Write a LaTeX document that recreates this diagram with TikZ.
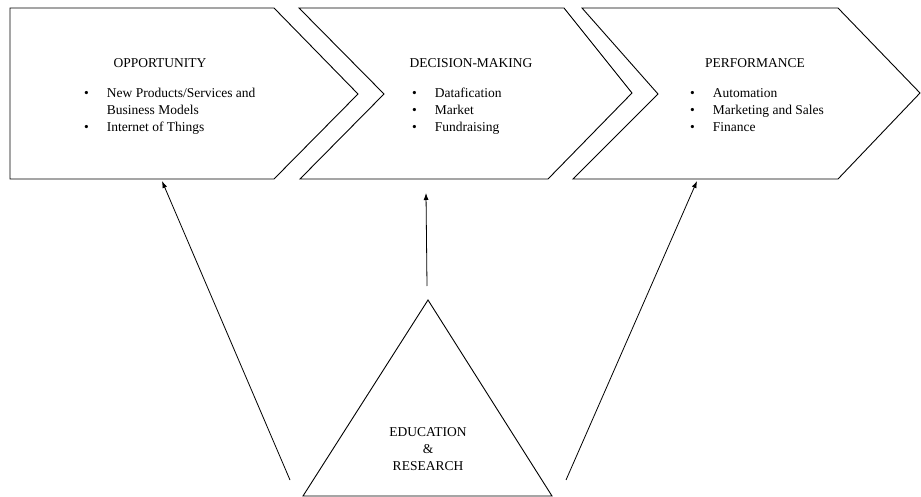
\documentclass[tikz,border=0pt]{standalone}
\usepackage{fontspec}
\setmainfont{Liberation Serif}
\usetikzlibrary{arrows.meta, calc}

\begin{document}
\begin{tikzpicture}[x=1pt, y=-1pt, every text node part/.style={align=center}]

\tikzstyle{box}=[inner sep=0pt, font=\fontsize{13.5}{17}\selectfont]
\tikzstyle{items}=[box, anchor=north west]
\tikzstyle{outline}=[draw, line width=0.9pt, line join=miter]
\tikzstyle{edge}=[draw, line width=0.8pt, -{Latex[length=7pt, width=5pt]}]

\useasboundingbox (0,0) rectangle (921,497);

\path [outline] (10,8) -- (274,8) -- (358,94) -- (274,179) -- (10,179) -- cycle;
\path [outline] (299,8) -- (564,8) -- (632,93) -- (548,179) -- (300,179) -- (384,94) -- cycle;
\path [outline] (582,8) -- (838,8) -- (920,93) -- (838,179) -- (573,179) -- (658,94) -- cycle;
\path [outline] (428,300) -- (552,496) -- (303,496) -- cycle;

\node [box] (opp)  at (160, 63) {OPPORTUNITY};
\node [box] (dec)  at (471, 63) {DECISION-MAKING};
\node [box] (perf) at (755, 63) {PERFORMANCE};

\node [items] (opplist) at (84, 85) {\begin{tabular}{@{}l@{\hspace{18pt}}l@{}}
  \textbullet & New Products/Services and \\
              & Business Models \\
  \textbullet & Internet of Things
\end{tabular}};
\node [items] (declist) at (412, 85) {\begin{tabular}{@{}l@{\hspace{18pt}}l@{}}
  \textbullet & Datafication \\
  \textbullet & Market \\
  \textbullet & Fundraising
\end{tabular}};
\node [items] (perflist) at (690, 85) {\begin{tabular}{@{}l@{\hspace{18pt}}l@{}}
  \textbullet & Automation \\
  \textbullet & Marketing and Sales \\
  \textbullet & Finance
\end{tabular}};

\node [box] (edu) at (428, 449) {EDUCATION\\\&\\RESEARCH};

\coordinate (leftfoot)  at (290, 480);
\coordinate (midfoot)   at (427, 286);
\coordinate (rightfoot) at (566, 480);
\coordinate (opptarget)  at (162, 181);
\coordinate (dectarget)  at (426, 193);
\coordinate (perftarget) at (697, 181);

\path [edge] (leftfoot)  -- (opptarget);
\path [edge] (midfoot)   -- (dectarget);
\path [edge] (rightfoot) -- (perftarget);

\end{tikzpicture}
\end{document}
